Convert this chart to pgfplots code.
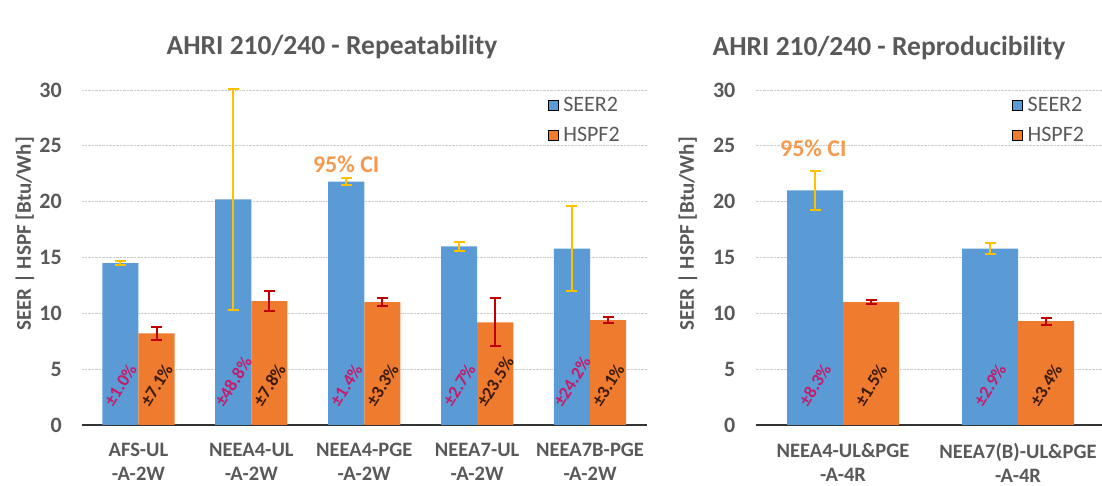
\documentclass[border=0pt]{standalone}
\usepackage{fontspec}
\setmainfont{Carlito}
\usepackage{pgfplots}
\pgfplotsset{compat=1.18}
\definecolor{seer}{HTML}{5B9BD5}
\definecolor{hspf}{HTML}{EE7B2E}
\definecolor{txt}{HTML}{595959}
\definecolor{yel}{HTML}{FFC000}
\definecolor{redb}{HTML}{C00000}
\definecolor{labA}{HTML}{C41C6A}
\definecolor{labB}{HTML}{3B1A08}
\definecolor{ci}{HTML}{F39A50}
\pgfplotsset{
  mystyle/.style={
    scale only axis, height=335pt, ymin=0, ymax=30, ytick={0,5,...,30},
    clip=false,
    ymajorgrids, grid style={densely dotted, black!20, line width=0.9pt},
    separate axis lines,
    axis x line*=bottom, axis y line*=left,
    x axis line style={black!80, line width=1.2pt, -},
    y axis line style={draw=none},
    major tick length=0pt,
    /pgf/number format/assume math mode=true,
    yticklabel style={font=\bfseries\fontsize{22}{22}\selectfont, text=txt, inner sep=0pt, anchor=east, xshift=-20pt},
    xticklabel style={font=\bfseries\fontsize{20.5}{24}\selectfont, text=txt, align=center, inner sep=0pt, anchor=north, yshift=-18pt},
    bar width=0.32,
    legend style={draw=none, fill=none, font=\fontsize{22}{22}\selectfont, text=txt, anchor=north west, inner sep=0pt, row sep=10pt, cells={anchor=west}},
    legend image code/.code={\fill[##1] (0pt,-5pt) rectangle (10pt,5pt);},
  },
  seerbar/.style={ybar, draw=none, fill=seer, bar shift=0pt,
    error bars/.cd, y dir=both, y explicit,
    error bar style={line width=2pt, yel},
    error mark options={rotate=90, mark size=5.5pt, line width=2pt, yel}},
  hspfbar/.style={ybar, draw=none, fill=hspf, bar shift=0pt,
    error bars/.cd, y dir=both, y explicit,
    error bar style={line width=2pt, redb},
    error mark options={rotate=90, mark size=5.5pt, line width=2pt, redb}},
}
\tikzset{
  pA/.style={rotate=58, text=labA, font=\bfseries\fontsize{18}{18}\selectfont, inner sep=0pt},
  pB/.style={rotate=58, text=labB, font=\bfseries\fontsize{18}{18}\selectfont, inner sep=0pt},
}
\begin{document}
\begin{tikzpicture}[x=1pt,y=1pt]
\useasboundingbox (0,0) rectangle (1102,486);
% titles and y labels
\node[font=\bfseries\fontsize{27.5}{27.5}\selectfont, text=txt] at (332,439) {AHRI 210/240 - Repeatability};
\node[font=\bfseries\fontsize{27.5}{27.5}\selectfont, text=txt] at (889,438) {AHRI 210/240 - Reproducibility};
\node[rotate=90, font=\bfseries\fontsize{21}{21}\selectfont, text=txt] at (25,252) {SEER | HSPF [Btu/Wh]};
\node[rotate=90, font=\bfseries\fontsize{21}{21}\selectfont, text=txt] at (688,252) {SEER | HSPF [Btu/Wh]};

\begin{axis}[mystyle, at={(82pt,61pt)}, anchor=south west, width=564.5pt,
  xmin=-0.5, xmax=4.5, xtick={0,1,2,3,4},
  xticklabels={{AFS-UL\\-A-2W},{NEEA4-UL\\-A-2W},{NEEA4-PGE\\-A-2W},{NEEA7-UL\\-A-2W},{NEEA7B-PGE\\-A-2W}},
  legend style={at={(rel axis cs:0.825,0.985)}}]
\addlegendimage{fill=seer}\addlegendentry{\hspace{3pt}SEER2}
\addlegendimage{fill=hspf}\addlegendentry{\hspace{3pt}HSPF2}
% SEER2 bars (plotted at category - 0.16)
\addplot[forget plot, seerbar] coordinates {
 (-0.16,14.5) +- (0,0.15)
 (0.84,20.2) +- (0,9.86)
 (1.84,21.8) +- (0,0.31)
 (2.84,16.0) +- (0,0.43)
 (3.84,15.8) +- (0,3.82)
};
% HSPF2 bars (plotted at category + 0.16)
\addplot[forget plot, hspfbar] coordinates {
 (0.16,8.2) +- (0,0.58)
 (1.16,11.1) +- (0,0.87)
 (2.16,11.0) +- (0,0.36)
 (3.16,9.2) +- (0,2.16)
 (4.16,9.4) +- (0,0.29)
};
\node[pA] at (axis cs:-0.16,3.6) {±1.0\%};
\node[pB] at (axis cs:0.16,3.6) {±7.1\%};
\node[pA] at (axis cs:0.84,3.9) {±48.8\%};
\node[pB] at (axis cs:1.16,3.6) {±7.8\%};
\node[pA] at (axis cs:1.84,3.6) {±1.4\%};
\node[pB] at (axis cs:2.16,3.6) {±3.3\%};
\node[pA] at (axis cs:2.84,3.6) {±2.7\%};
\node[pB] at (axis cs:3.16,3.9) {±23.5\%};
\node[pA] at (axis cs:3.84,3.9) {±24.2\%};
\node[pB] at (axis cs:4.16,3.6) {±3.1\%};
\node[text=ci, font=\bfseries\fontsize{24}{24}\selectfont] at (axis cs:1.84,23.3) {95\% CI};
\end{axis}

\begin{axis}[mystyle, at={(755.5pt,61pt)}, anchor=south west, width=350pt,
  xmin=-0.5, xmax=1.5, xtick={0,1},
  xticklabels={{NEEA4-UL\&PGE\\-A-4R},{NEEA7(B)-UL\&PGE\\-A-4R}},
  legend style={at={(rel axis cs:0.733,0.985)}}]
\addlegendimage{fill=seer}\addlegendentry{\hspace{3pt}SEER2}
\addlegendimage{fill=hspf}\addlegendentry{\hspace{3pt}HSPF2}
\addplot[forget plot, seerbar] coordinates {
 (-0.16,21.0) +- (0,1.74)
 (0.84,15.8) +- (0,0.46)
};
\addplot[forget plot, hspfbar] coordinates {
 (0.16,11.0) +- (0,0.17)
 (1.16,9.3) +- (0,0.32)
};
\node[pA] at (axis cs:-0.16,3.6) {±8.3\%};
\node[pB] at (axis cs:0.16,3.6) {±1.5\%};
\node[pA] at (axis cs:0.84,3.6) {±2.9\%};
\node[pB] at (axis cs:1.16,3.6) {±3.4\%};
\node[text=ci, font=\bfseries\fontsize{24}{24}\selectfont] at (axis cs:-0.17,24.8) {95\% CI};
\end{axis}
\end{tikzpicture}
\end{document}
